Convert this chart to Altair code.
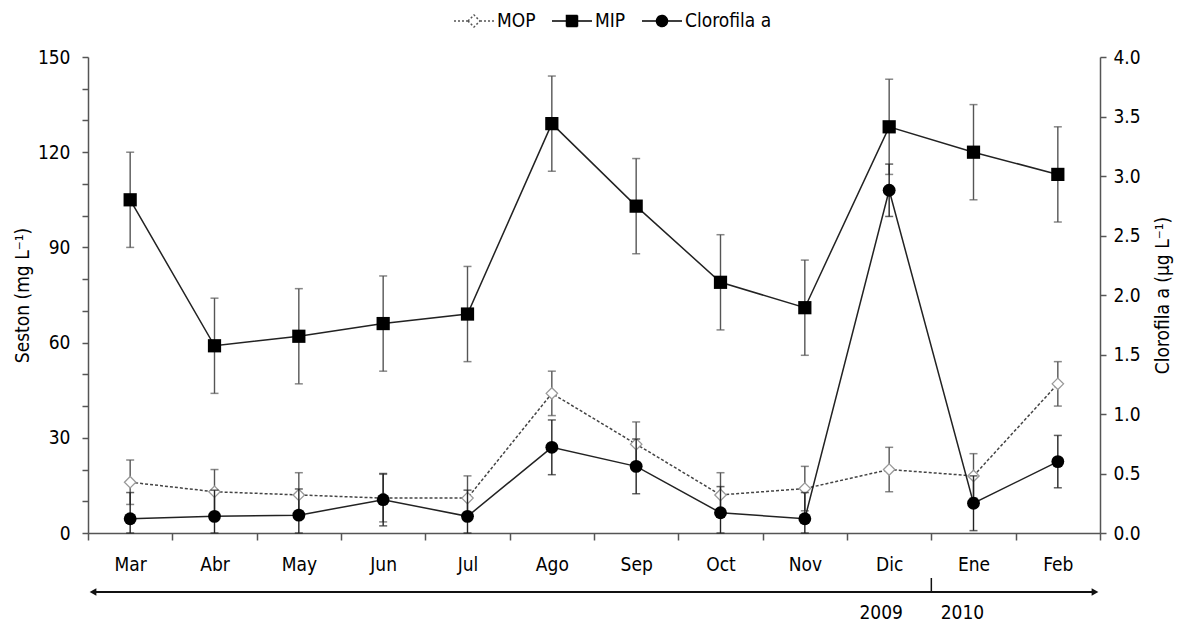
import altair as alt
import pandas as pd

# ---- data ----
months = ["Mar", "Abr", "May", "Jun", "Jul", "Ago", "Sep", "Oct", "Nov", "Dic", "Ene", "Feb"]
mop = [16, 13, 12, 11, 11, 44, 28, 12, 14, 20, 18, 47]
mop_err = [7, 7, 7, 7.5, 7, 7, 7, 7, 7, 7, 7, 7]
mip = [105, 59, 62, 66, 69, 129, 103, 79, 71, 128, 120, 113]
mip_err = [15, 15, 15, 15, 15, 15, 15, 15, 15, 15, 15, 15]
chl = [0.12, 0.14, 0.15, 0.28, 0.14, 0.72, 0.56, 0.17, 0.12, 2.88, 0.25, 0.60]
chl_err = [0.22, 0.22, 0.22, 0.22, 0.22, 0.23, 0.23, 0.22, 0.22, 0.22, 0.23, 0.22]
series = ["MOP", "MIP", "Clorofila a"]
years = ["2009", "2010"]
year_months = ["Dic", "Ene"]
year_dx = [-8, -11]

FONT = "DejaVu Sans Condensed, DejaVu Sans"
FS = 19
TXT = "#000"
W, H = 1012, 476

df = pd.DataFrame({"mes": months, "mop": mop, "mip": mip, "chl": chl})
df["mop_lo"] = [v - e for v, e in zip(mop, mop_err)]
df["mop_hi"] = [v + e for v, e in zip(mop, mop_err)]
df["mip_lo"] = [v - e for v, e in zip(mip, mip_err)]
df["mip_hi"] = [v + e for v, e in zip(mip, mip_err)]
df["chl_lo"] = [max(0, v - e) for v, e in zip(chl, chl_err)]
df["chl_hi"] = [v + e for v, e in zip(chl, chl_err)]

base = alt.Chart(df)
xscale = alt.Scale(domain=months, paddingInner=0, paddingOuter=0)
x_axis = alt.Axis(labelAngle=0, tickBand="extent", tickSize=7, labelPadding=15,
                  labelFont=FONT, labelFontSize=FS, labelColor=TXT, title=None,
                  domainColor="#555", tickColor="#555", domainWidth=1.5, tickWidth=1.5,
                  grid=False)


def X(**kw):
    return alt.X("mes:N", scale=xscale, sort=months, title=None, axis=x_axis, **kw)


yl = alt.Scale(domain=[0, 150], nice=False)
yr = alt.Scale(domain=[0, 4], nice=False)

left_axis = alt.Axis(values=list(range(0, 151, 10)),
                     labelExpr="datum.value % 30 == 0 ? datum.label : ''",
                     grid=False, tickSize=6, labelPadding=12, labelFont=FONT, labelFontSize=FS,
                     labelColor=TXT, domainColor="#555", tickColor="#555",
                     domainWidth=1.5, tickWidth=1.5,
                     title="Seston (mg L⁻¹)", titleFont=FONT, titleFontSize=FS,
                     titleFontWeight="normal", titleColor=TXT, titleAngle=270,
                     titleX=-66, titleY=H / 2, titleBaseline="middle", titleAlign="center")

right_axis = alt.Axis(orient="right", values=[0, 0.5, 1, 1.5, 2, 2.5, 3, 3.5, 4], format=".1f",
                      grid=False, tickSize=6, labelPadding=7, labelFont=FONT, labelFontSize=FS,
                      labelColor=TXT, domainColor="#555", tickColor="#555",
                      domainWidth=1.5, tickWidth=1.5,
                      title="Clorofila a (µg L⁻¹)", titleFont=FONT, titleFontSize=FS,
                      titleFontWeight="normal", titleColor=TXT, titleAngle=270,
                      titleX=62, titleY=H / 2, titleBaseline="middle", titleAlign="center")


def YL(f):
    return alt.Y(f"{f}:Q", scale=yl, axis=left_axis, title="Seston (mg L⁻¹)")


def YR(f):
    return alt.Y(f"{f}:Q", scale=yr, axis=right_axis, title="Clorofila a (µg L⁻¹)")


def errbars(lo, hi, Y, color):
    rule = base.mark_rule(color=color, strokeWidth=1.4).encode(x=X(), y=Y(lo), y2=f"{hi}:Q")
    cap_lo = base.mark_tick(color=color, orient="horizontal", size=8, thickness=1.5).encode(
        x=X(), y=Y(lo))
    cap_hi = base.mark_tick(color=color, orient="horizontal", size=8, thickness=1.5).encode(
        x=X(), y=Y(hi))
    return [rule, cap_lo, cap_hi]


mop_line = base.mark_line(color="#444", strokeDash=[3, 2], strokeWidth=1.5).encode(x=X(), y=YL("mop"))
mop_pts = base.mark_point(shape="diamond", size=130, filled=True, fill="white",
                          stroke="#999", strokeWidth=1.3, opacity=1).encode(x=X(), y=YL("mop"))
mip_line = base.mark_line(color="#222", strokeWidth=1.5).encode(x=X(), y=YL("mip"))
mip_pts = base.mark_point(shape="square", size=175, filled=True, color="black",
                          opacity=1).encode(x=X(), y=YL("mip"))

left = alt.layer(mip_line, *errbars("mop_lo", "mop_hi", YL, "#555"), mop_line, mop_pts,
                 *errbars("mip_lo", "mip_hi", YL, "#555"), mip_pts)

chl_line = base.mark_line(color="#222", strokeWidth=1.5).encode(x=X(), y=YR("chl"))
chl_pts = base.mark_point(shape="circle", size=165, filled=True, color="black",
                          opacity=1).encode(x=X(), y=YR("chl"))
right = alt.layer(chl_line, *errbars("chl_lo", "chl_hi", YR, "#222"), chl_pts)

# ---- time arrow below the axis ----
arrow_df = pd.DataFrame({"a": [0]})
arrow = alt.Chart(arrow_df).mark_rule(color="#111", strokeWidth=1.8).encode(
    x=alt.value(4), x2=alt.value(W - 4), y=alt.value(H + 59))
head_l = alt.Chart(arrow_df).mark_point(shape="triangle-left", size=60, filled=True,
                                        color="#111", opacity=1).encode(
    x=alt.value(5), y=alt.value(H + 59))
head_r = alt.Chart(arrow_df).mark_point(shape="triangle-right", size=60, filled=True,
                                        color="#111", opacity=1).encode(
    x=alt.value(W - 5), y=alt.value(H + 59))
div_df = pd.DataFrame({"mes": ["Dic"]})
divider = alt.Chart(div_df).mark_rule(color="#111", strokeWidth=1.5).encode(
    x=X(bandPosition=1), y=alt.value(H + 45), y2=alt.value(H + 59))
yr_df = pd.DataFrame({"mes": year_months, "year": years, "dx": year_dx})
year_txt = alt.layer(*[
    alt.Chart(yr_df[yr_df.year == y]).mark_text(font=FONT, fontSize=FS, color=TXT,
                                                 baseline="middle", dx=d).encode(
        x=X(), y=alt.value(H + 80), text="year:N")
    for y, d in zip(years, year_dx)
])

# ---- legend (native, from a scale with explicit domain) ----
paths = [
    "M-2,0H-0.6M-0.6,0L0,-0.6L0.6,0L0,0.6ZM0.6,0H2",
    "M-2,0H2M-0.55,-0.55H0.55V0.55H-0.55Z",
    "M-2,0H2M-0.55,0A0.55,0.55,0,1,0,0.55,0A0.55,0.55,0,1,0,-0.55,0Z",
]
leg = alt.Legend(title=None, orient="none", legendX=375, legendY=-47, direction="horizontal",
                 symbolSize=400, labelFont=FONT, labelFontSize=FS, labelColor=TXT,
                 labelOffset=12, columnPadding=13, symbolStrokeWidth=1.5, padding=0,
                 symbolOpacity=1)
leg_df = pd.DataFrame({"serie": series})
legend_layer = alt.Chart(leg_df).mark_point(filled=True, opacity=1).encode(
    shape=alt.Shape("serie:N", scale=alt.Scale(domain=series, range=paths), legend=leg),
    fill=alt.Fill("serie:N", scale=alt.Scale(domain=series, range=["white", "black", "black"]), legend=leg),
    stroke=alt.Stroke("serie:N", scale=alt.Scale(domain=series, range=["#555", "black", "black"]), legend=leg),
    strokeDash=alt.StrokeDash("serie:N", scale=alt.Scale(domain=series, range=[[2, 2], [1, 0], [1, 0]]), legend=leg),
).transform_filter("false")

chart = alt.layer(left, right, arrow, head_l, head_r, divider, year_txt, legend_layer).resolve_scale(
    y="independent"
).properties(
    width=W, height=H,
    autosize=alt.AutoSizeParams(type="none"),
    padding={"left": 88, "top": 57, "right": 78, "bottom": 90},
    background="white",
).configure_view(stroke=None)

chart.save("out.html", embed_options={"renderer": "svg", "actions": False})
